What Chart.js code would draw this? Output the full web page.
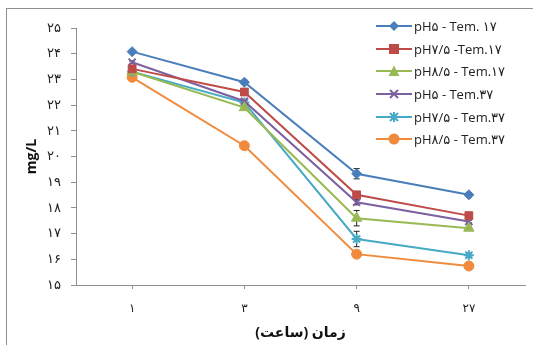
<!DOCTYPE html>
<html>
<head>
<meta charset="utf-8">
<script src="https://cdn.jsdelivr.net/npm/chart.js@4"></script>
<style>
  html, body { margin: 0; padding: 0; background: #fff; overflow: hidden; }
  #wrap { position: relative; width: 533px; height: 345px; }
  #frame { position: absolute; left: 6px; top: 8px; width: 600px; height: 400px; border: 1px solid #8e8e8e; }
  #chart { position: absolute; left: 0; top: 0; }
  #legend { position: absolute; left: 376px; top: 15px; width: 157px; font-family: "Open Sans", "DejaVu Sans", sans-serif; font-size: 13px; color: #222; }
  #legend .row { height: 22.6px; display: flex; align-items: center; direction: ltr; white-space: nowrap; }
  #legend svg { flex-shrink: 0; margin-right: 2px; }
</style>
</head>
<body>
<div id="wrap">
  <div id="frame"></div>
  <canvas id="chart" width="533" height="345"></canvas>
  <div id="legend"></div>
</div>
<script>
const hours = [1, 3, 9, 27];
const yTicks = [15, 16, 17, 18, 19, 20, 21, 22, 23, 24, 25];

const seriesNames = [
  "pH۵ - Tem. ۱۷",
  "pH۷/۵ -Tem.۱۷",
  "pH۸/۵ - Tem.۱۷",
  "pH۵ - Tem.۳۷",
  "pH۷/۵ - Tem.۳۷",
  "pH۸/۵ - Tem.۳۷"
];

const ph5T17 = [24.08, 22.89, 19.33, 18.51];
const ph75T17 = [23.41, 22.51, 18.51, 17.7];
const ph85T17 = [23.3, 21.9, 17.6, 17.21];
const ph5T37 = [23.67, 22.15, 18.22, 17.47];
const ph75T37 = [23.3, 22.1, 16.79, 16.16];
const ph85T37 = [23.08, 20.42, 16.2, 15.74];

const err5T17 = [0.05, 0.08, 0.2, 0.08];
const err75T17 = [0.08, 0.12, 0.1, 0.05];
const err85T17 = [0.08, 0.08, 0.3, 0.05];
const err5T37 = [0.05, 0.05, 0.1, 0.05];
const err75T37 = [0.08, 0.08, 0.3, 0.08];
const err85T37 = [0.05, 0.05, 0.05, 0.05];

const colors = ["#4A7EBB", "#BE4B48", "#98B954", "#7D60A0", "#46AAC5", "#F08A3C"];
const markers = ["rectRot", "rect", "triangle", "crossRot", "star", "circle"];
const radii = [5, 5.5, 6, 5, 5, 5];

const values = [ph5T17, ph75T17, ph85T17, ph5T37, ph75T37, ph85T37];
const errors = [err5T17, err75T17, err85T17, err5T37, err75T37, err85T37];

const fa = (n) => String(n).replace(/\d/g, (d) => "۰۱۲۳۴۵۶۷۸۹"[d]);
const FONT = "'Open Sans', 'DejaVu Sans', sans-serif";

/* ── error bars drawn through the y scale ── */
const errorBars = {
  id: "errorBars",
  beforeDatasetsDraw(chart) {
    const ctx = chart.ctx;
    const y = chart.scales.y;
    ctx.save();
    ctx.strokeStyle = "#222";
    ctx.lineWidth = 1;
    chart.data.datasets.forEach((ds, i) => {
      const meta = chart.getDatasetMeta(i);
      meta.data.forEach((pt, j) => {
        const v = ds.data[j];
        const e = ds.errors[j];
        const top = y.getPixelForValue(v + e);
        const bot = y.getPixelForValue(v - e);
        ctx.beginPath();
        ctx.moveTo(pt.x, top); ctx.lineTo(pt.x, bot);
        ctx.moveTo(pt.x - 3, top); ctx.lineTo(pt.x + 3, top);
        ctx.moveTo(pt.x - 3, bot); ctx.lineTo(pt.x + 3, bot);
        ctx.stroke();
      });
    });
    ctx.restore();
  }
};

const datasets = values.map((v, i) => ({
  label: seriesNames[i],
  data: v,
  errors: errors[i],
  borderColor: colors[i],
  backgroundColor: colors[i],
  pointBackgroundColor: colors[i],
  pointBorderColor: colors[i],
  pointStyle: markers[i],
  pointRadius: radii[i],
  pointBorderWidth: markers[i] === "crossRot" || markers[i] === "star" ? 2 : 1,
  borderWidth: 2,
  tension: 0,
  fill: false
}));

new Chart(document.getElementById("chart"), {
  type: "line",
  data: { labels: hours.map(fa), datasets },
  plugins: [errorBars],
  options: {
    responsive: false,
    animation: false,
    layout: { padding: { left: 0, right: 8, top: 28, bottom: 0 } },
    plugins: { legend: { display: false }, tooltip: { enabled: false } },
    scales: {
      x: {
        offset: true,
        afterFit: (s) => { s.height = 60; },
        border: { color: "#8e8e8e", width: 1 },
        grid: { offset: false, drawOnChartArea: false, tickLength: 4, color: "#8e8e8e" },
        ticks: { color: "#222", font: { family: FONT, size: 12 }, padding: 12, maxRotation: 0 },
        title: { display: true, text: "\u202Bزمان (ساعت)\u202C", color: "#111", font: { family: FONT, size: 14, weight: "bold" }, padding: { top: 6, bottom: 4 } }
      },
      y: {
        min: 15,
        max: 25,
        afterFit: (s) => { s.width = 76; },
        afterBuildTicks: (s) => { s.ticks = yTicks.map((v) => ({ value: v })); },
        border: { color: "#8e8e8e", width: 1 },
        grid: { drawOnChartArea: false, tickLength: 5, color: "#8e8e8e" },
        ticks: { color: "#222", font: { family: FONT, size: 13 }, padding: 10, callback: (v) => fa(v) },
        title: { display: true, text: "mg/L", color: "#111", font: { family: FONT, size: 14, weight: "bold" }, padding: { top: 24, bottom: 0 } }
      }
    }
  }
});

/* ── legend ── */
const legend = document.getElementById("legend");
seriesNames.forEach((name, i) => {
  const row = document.createElement("div");
  row.className = "row";
  const c = colors[i];
  let mk = "";
  if (markers[i] === "rectRot") mk = `<polygon points="18,1 23,6 18,11 13,6" fill="${c}"/>`;
  if (markers[i] === "rect") mk = `<rect x="13" y="1" width="10" height="10" fill="${c}"/>`;
  if (markers[i] === "triangle") mk = `<polygon points="18,0.5 23.5,11 12.5,11" fill="${c}"/>`;
  if (markers[i] === "crossRot") mk = `<path d="M14,2 L22,10 M22,2 L14,10" stroke="${c}" stroke-width="2"/>`;
  if (markers[i] === "star") mk = `<path d="M14,2 L22,10 M22,2 L14,10 M18,1 L18,11" stroke="${c}" stroke-width="2"/>`;
  if (markers[i] === "circle") mk = `<circle cx="18" cy="6" r="5.5" fill="${c}"/>`;
  row.innerHTML = `<svg width="36" height="12"><line x1="0" y1="6" x2="36" y2="6" stroke="${c}" stroke-width="2"/>${mk}</svg><span>${name}</span>`;
  legend.appendChild(row);
});
</script>
</body>
</html>
